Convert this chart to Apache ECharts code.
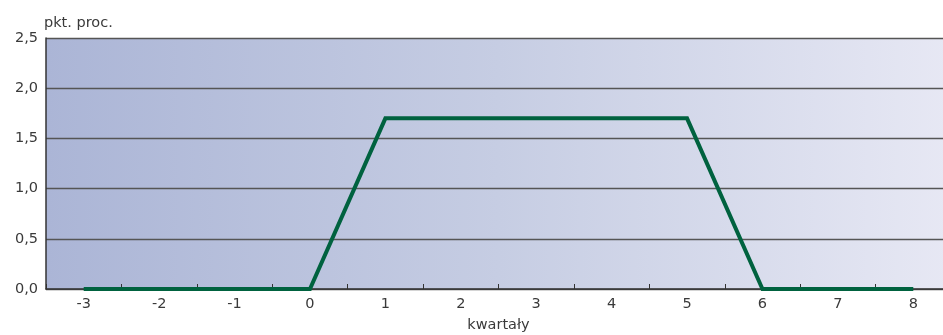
<!DOCTYPE html>
<html>
<head>
<meta charset="utf-8">
<script src="https://cdn.jsdelivr.net/npm/echarts@6/dist/echarts.min.js"></script>
<style>
  html, body { margin: 0; padding: 0; background: #fff; }
  #chart { width: 943px; height: 335px; }
</style>
</head>
<body>
<div id="chart"></div>
<script>
// Quarters relative to the shock and the response in percentage points
const quarters = ['-3', '-2', '-1', '0', '1', '2', '3', '4', '5', '6', '7', '8'];
const response = [0, 0, 0, 0, 1.7, 1.7, 1.7, 1.7, 1.7, 0, 0, 0];
const yTicks = [0, 0.5, 1.0, 1.5, 2.0, 2.5];

const font = '"DejaVu Sans", "Noto Sans", sans-serif';
const fontSize = 14.5;
const textColor = '#3a3a3a';
const chart = echarts.init(document.getElementById('chart'));

chart.setOption({
  animation: false,
  grid: {
    left: 46, top: 38, width: 905, bottom: 46,
    outerBoundsMode: 'none',
    show: true,
    borderWidth: 0,
    backgroundColor: new echarts.graphic.LinearGradient(0, 0, 1, 0, [
      { offset: 0, color: '#abb5d6' },
      { offset: 0.5, color: '#c6cde3' },
      { offset: 1, color: '#e7e8f4' }
    ])
  },
  xAxis: {
    type: 'category',
    data: quarters,
    boundaryGap: true,
    name: 'kwartały',
    nameLocation: 'middle',
    nameGap: 29,
    nameTextStyle: { fontFamily: font, fontSize: fontSize, color: textColor },
    axisLine: { lineStyle: { color: '#333', width: 1.5 } },
    axisTick: { show: true, inside: true, length: 5, lineStyle: { color: '#333', width: 1 } },
    axisLabel: { fontFamily: font, fontSize: fontSize, color: textColor, margin: 8 },
    splitLine: { show: false }
  },
  yAxis: {
    type: 'value',
    min: 0, max: 2.5, interval: 0.5,
    name: 'pkt. proc.',
    nameLocation: 'end',
    nameGap: 7,
    nameTextStyle: { fontFamily: font, fontSize: fontSize, color: textColor, align: 'left', padding: [0, 0, 0, -2] },
    axisLine: { show: true, lineStyle: { color: '#333', width: 1.5 } },
    axisTick: { show: false },
    axisLabel: {
      fontFamily: font, fontSize: fontSize, color: textColor, margin: 8,
      formatter: v => yTicks.includes(v) ? v.toFixed(1).replace('.', ',') : ''
    },
    splitLine: { show: true, lineStyle: { color: '#555', width: 1.3 } }
  },
  series: [{
    type: 'line',
    data: response,
    symbol: 'none',
    lineStyle: { color: '#00623f', width: 4, join: 'miter' },
    z: 5
  }]
});
</script>
</body>
</html>
